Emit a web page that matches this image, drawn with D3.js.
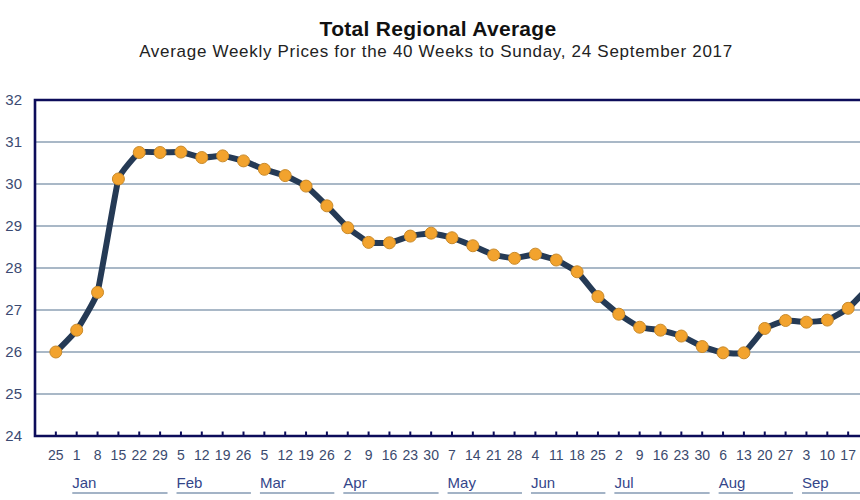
<!DOCTYPE html>
<html>
<head>
<meta charset="utf-8">
<script src="https://cdn.jsdelivr.net/npm/d3@7"></script>
<style>
  body { margin: 0; background: #fff; }
  svg { display: block; font-family: 'Liberation Sans', Arial, sans-serif; }
</style>
</head>
<body>
<svg class="price-svg" width="860" height="500"></svg>
<script>
// week ending dates (Sundays) for the 40 weeks
const weekEnding = [
  '2016-12-25', '2017-01-01', '2017-01-08', '2017-01-15', '2017-01-22', '2017-01-29',
  '2017-02-05', '2017-02-12', '2017-02-19', '2017-02-26',
  '2017-03-05', '2017-03-12', '2017-03-19', '2017-03-26',
  '2017-04-02', '2017-04-09', '2017-04-16', '2017-04-23', '2017-04-30',
  '2017-05-07', '2017-05-14', '2017-05-21', '2017-05-28',
  '2017-06-04', '2017-06-11', '2017-06-18', '2017-06-25',
  '2017-07-02', '2017-07-09', '2017-07-16', '2017-07-23', '2017-07-30',
  '2017-08-06', '2017-08-13', '2017-08-20', '2017-08-27',
  '2017-09-03', '2017-09-10', '2017-09-17', '2017-09-24'
]

// average weekly price
const prices = [
  26.00, 26.52, 27.42, 30.12, 30.75, 30.75,
  30.76, 30.63, 30.67, 30.55,
  30.35, 30.20, 29.95, 29.48,
  28.96, 28.61, 28.60, 28.76, 28.83,
  28.72, 28.53, 28.31, 28.23,
  28.33, 28.19, 27.91, 27.32,
  26.90, 26.59, 26.52, 26.38, 26.13,
  25.98, 25.98, 26.56, 26.75,
  26.71, 26.76, 27.04, 27.55
]

const yTicks = [24, 25, 26, 27, 28, 29, 30, 31, 32]
const labelledYear = 2017

const title = 'Total Regional Average'
const subtitle = 'Average Weekly Prices for the 40 Weeks to Sunday, 24 September 2017'

const parse = d3.timeParse('%Y-%m-%d')
const data = weekEnding.map((d, i) => ({ i, date: parse(d), value: prices[i] }))

const svg = d3.select('.price-svg')
const width = +svg.attr('width')

const plotLeft = 35
const plotTop = 100
const plotBottom = 436
const step = 20.85

/**
 * x is the week index; one empty step sits either side of the data.
 */
const xScale = d3.scaleLinear()
  .domain([-1, data.length])
  .range([plotLeft, plotLeft + (data.length + 1) * step])

const yScale = d3.scaleLinear()
  .domain([d3.min(yTicks), d3.max(yTicks)])
  .range([plotBottom, plotTop])

const plotRight = xScale.range()[1]

// titles
svg.append('text')
  .attr('x', 438)
  .attr('y', 36)
  .attr('text-anchor', 'middle')
  .style('font-size', '21px')
  .style('font-weight', 'bold')
  .style('letter-spacing', '0.3px')
  .attr('fill', '#111')
  .text(title)

svg.append('text')
  .attr('x', 436)
  .attr('y', 57)
  .attr('text-anchor', 'middle')
  .style('font-size', '17px')
  .style('letter-spacing', '0.7px')
  .attr('fill', '#222')
  .text(subtitle)

// horizontal gridlines
svg.append('g')
  .selectAll('line')
  .data(yTicks.slice(1, -1))
  .join('line')
  .attr('x1', plotLeft)
  .attr('x2', plotRight)
  .attr('y1', d => yScale(d))
  .attr('y2', d => yScale(d))
  .attr('stroke', '#8da0b4')
  .attr('stroke-width', 1.6)

// y axis labels
svg.append('g')
  .attr('class', 'y axis')
  .selectAll('text')
  .data(yTicks)
  .join('text')
  .attr('x', 22)
  .attr('y', d => yScale(d))
  .attr('dy', '.35em')
  .attr('text-anchor', 'end')
  .style('font-size', '15px')
  .attr('fill', '#3b4a72')
  .text(d => d)

// frame: left, top and bottom
const frame = d3.path()
frame.moveTo(plotRight, plotTop)
frame.lineTo(plotLeft, plotTop)
frame.lineTo(plotLeft, plotBottom)
frame.lineTo(plotRight, plotBottom)
svg.append('path')
  .attr('d', frame.toString())
  .attr('fill', 'none')
  .attr('stroke', '#0c0c5a')
  .attr('stroke-width', 2.6)

// x ticks, pointing up into the plot
const xAxis = svg.append('g').attr('class', 'x axis')
xAxis.selectAll('line')
  .data(data)
  .join('line')
  .attr('x1', d => xScale(d.i))
  .attr('x2', d => xScale(d.i))
  .attr('y1', plotBottom)
  .attr('y2', plotBottom - 4.5)
  .attr('stroke', '#0c0c5a')
  .attr('stroke-width', 2)

// only the day labels that fit inside the view are shown, as in the original crop
xAxis.selectAll('text')
  .data(data.filter(d => xScale(d.i) + 8 < width))
  .join('text')
  .attr('x', d => xScale(d.i))
  .attr('y', 459.5)
  .attr('text-anchor', 'middle')
  .style('font-size', '14px')
  .attr('fill', '#3b4a6e')
  .text(d => d3.timeFormat('%-d')(d.date))

// month labels with underlines
const months = d3.groups(data.filter(d => d.date.getFullYear() === labelledYear), d => d3.timeFormat('%b')(d.date))
const monthG = svg.append('g')
  .selectAll('g')
  .data(months)
  .join('g')

monthG.append('text')
  .attr('x', d => xScale(d[1][0].i) - step / 2 + 6)
  .attr('y', 488)
  .style('font-size', '15px')
  .attr('fill', '#34468a')
  .text(d => d[0])

monthG.append('line')
  .attr('x1', d => xScale(d[1][0].i) - step / 2 + 6)
  .attr('x2', d => xScale(d[1][d[1].length - 1].i) + step / 2 - 3)
  .attr('y1', 493)
  .attr('y2', 493)
  .attr('stroke', '#a3b3c6')
  .attr('stroke-width', 2)

// price line and markers
const line = d3.line()
  .x(d => xScale(d.i))
  .y(d => yScale(d.value))
  .curve(d3.curveCardinal.tension(0.7))

svg.append('path')
  .datum(data)
  .attr('d', line)
  .attr('fill', 'none')
  .attr('stroke', '#253a55')
  .attr('stroke-width', 6)
  .attr('stroke-linejoin', 'round')

svg.append('g')
  .selectAll('circle')
  .data(data)
  .join('circle')
  .attr('cx', d => xScale(d.i))
  .attr('cy', d => yScale(d.value))
  .attr('r', 6)
  .attr('fill', '#f2a32e')
  .attr('stroke', '#c98a2a')
  .attr('stroke-width', 1)
</script>
</body>
</html>
